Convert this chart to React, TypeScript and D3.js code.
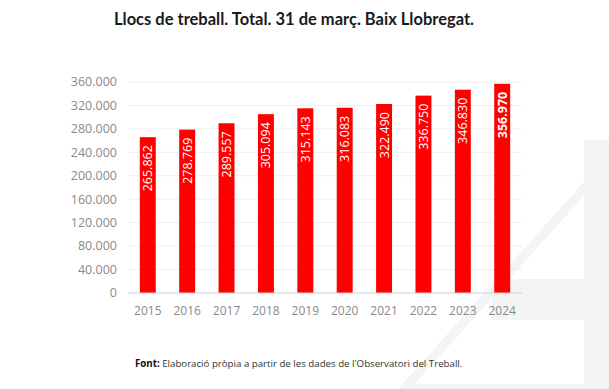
import React from 'react'
import * as d3 from 'd3'

const years = ['2015', '2016', '2017', '2018', '2019', '2020', '2021', '2022', '2023', '2024']
const jobs = [265862, 278769, 289557, 305094, 315143, 316083, 322490, 336750, 346830, 356970]
const yTicks = [0, 40000, 80000, 120000, 160000, 200000, 240000, 280000, 320000, 360000]

const W = 609
const H = 389
const MARGIN = { top: 82, right: 87, bottom: 96, left: 128 }

const fmt = (v: number) => d3.format(',')(v).replace(/,/g, '.')

export default function App() {
  const boundsWidth = W - MARGIN.left - MARGIN.right
  const boundsHeight = H - MARGIN.top - MARGIN.bottom

  const xScale = d3.scaleBand().domain(years).range([0, boundsWidth]).paddingInner(0.595).paddingOuter(0.3)
  const yScale = d3.scaleLinear().domain([0, 360000]).range([boundsHeight, 0])
  const font = "'Open Sans', sans-serif"

  return (
    <svg width={W} height={H} style={{ position: 'absolute', left: 0, top: 0, background: '#fff' }}>
      {/* faint watermark in the background */}
      <g fill="#f4f4f4">
        <rect x={584} y={140} width={25} height={249} />
        <rect x={492} y={279} width={92} height={41} />
        <rect x={405} y={384} width={204} height={5} />
        <polygon points="398,389 410,389 609,168 609,154" />
      </g>

      <text x={294} y={25} textAnchor="middle" fontFamily="Lato, sans-serif" fontWeight={700} fontSize={16.5} fill="#1a1a1a">
        Llocs de treball. Total. 31 de març. Baix Llobregat.
      </text>

      <g transform={`translate(${MARGIN.left},${MARGIN.top})`}>
        {yTicks.map((t) => (
          <g key={t}>
            {t > 0 && <line x1={0} x2={boundsWidth} y1={yScale(t)} y2={yScale(t)} stroke="#efefef" />}
            <text x={-11} y={yScale(t)} dy="0.35em" textAnchor="end" fontFamily={font} fontSize={12.5} fill="#8a8a8a">
              {fmt(t)}
            </text>
          </g>
        ))}

        {jobs.map((v, i) => {
          const x = xScale(years[i]) || 0
          const top = yScale(v)
          const cx = x + xScale.bandwidth() / 2
          return (
            <g key={years[i]}>
              <rect x={x} y={top} width={xScale.bandwidth()} height={boundsHeight - top} fill="#ff0000" />
              <text
                transform={`translate(${cx},${top + 8}) rotate(-90)`}
                textAnchor="end"
                dy="0.36em"
                fontFamily={font}
                fontSize={12.5}
                fontWeight={i === jobs.length - 1 ? 700 : 400}
                fill="#fff"
              >
                {fmt(v)}
              </text>
              <text x={cx} y={boundsHeight + 22} textAnchor="middle" fontFamily={font} fontSize={12} fill="#8a8a8a">
                {years[i]}
              </text>
            </g>
          )
        })}

        <line x1={0} x2={boundsWidth} y1={boundsHeight} y2={boundsHeight} stroke="#d0d0d0" />
      </g>

      <text x={135} y={367} fontFamily={font} fontSize={9.7} fill="#333">
        <tspan fontWeight={700} fill="#111">Font:</tspan> Elaboració pròpia a partir de les dades de l'Observatori del Treball.
      </text>
    </svg>
  )
}
